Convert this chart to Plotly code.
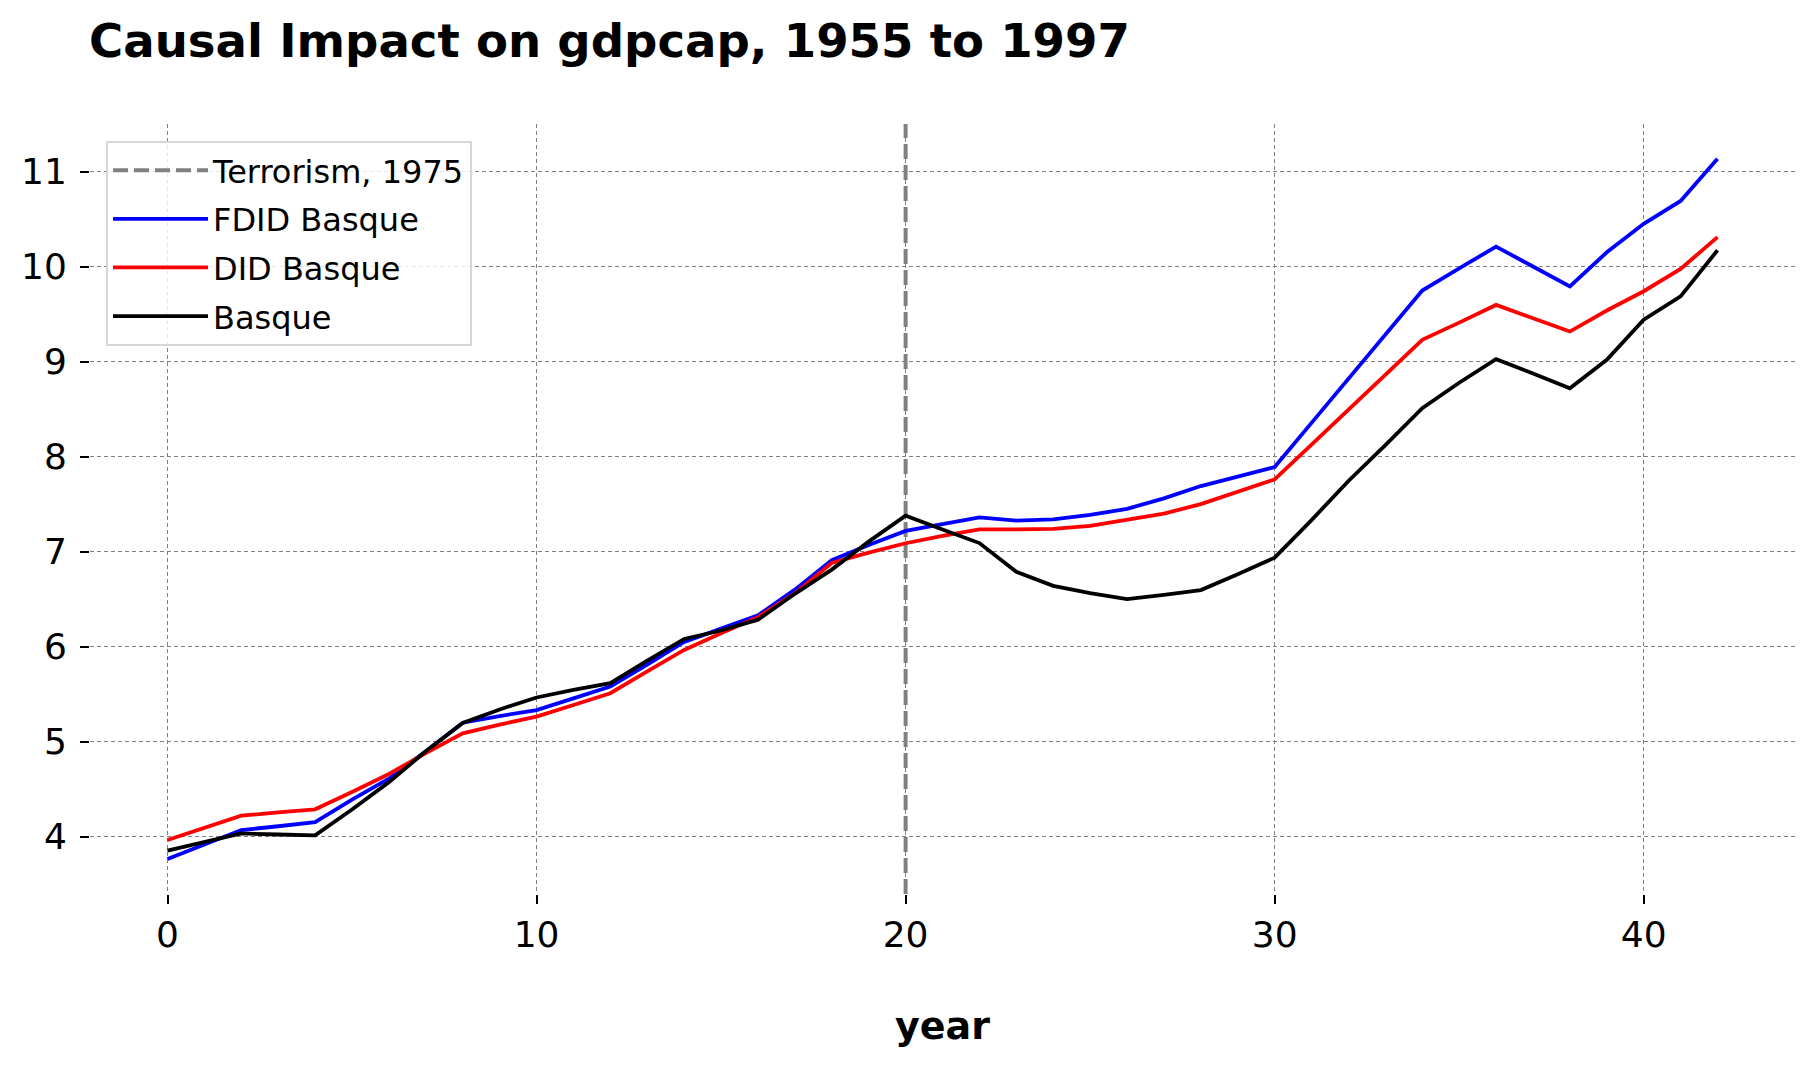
import plotly.graph_objects as go

years = list(range(43))

basque = [3.853, 3.946, 4.034, 4.023, 4.014, 4.286, 4.574, 4.899, 5.197, 5.339,
          5.465, 5.546, 5.615, 5.852, 6.081, 6.170, 6.284, 6.556, 6.811, 7.105,
          7.378, 7.233, 7.090, 6.787, 6.640, 6.563, 6.501, 6.545, 6.595, 6.761,
          6.937, 7.332, 7.743, 8.121, 8.510, 8.777, 9.025, 8.874, 8.719, 9.018,
          9.440, 9.686, 10.171]

fdid = [3.765, 3.917, 4.070, 4.110, 4.154, 4.390, 4.610, 4.900, 5.200, 5.270,
        5.333, 5.456, 5.580, 5.810, 6.050, 6.190, 6.330, 6.600, 6.910, 7.070,
        7.218, 7.290, 7.360, 7.326, 7.340, 7.386, 7.450, 7.560, 7.690, 7.790,
        7.890, 8.355, 8.820, 9.285, 9.747, 9.980, 10.210, 10.000, 9.790, 10.150,
        10.450, 10.690, 11.133]

did = [3.965, 4.093, 4.221, 4.255, 4.288, 4.470, 4.660, 4.880, 5.088, 5.180,
       5.263, 5.386, 5.510, 5.740, 5.965, 6.140, 6.310, 6.560, 6.880, 6.990,
       7.088, 7.165, 7.235, 7.235, 7.240, 7.270, 7.330, 7.400, 7.500, 7.630,
       7.760, 8.127, 8.490, 8.860, 9.228, 9.410, 9.596, 9.456, 9.316, 9.537,
       9.740, 9.975, 10.310]

treat_year = 20
x_ticks = [0, 10, 20, 30, 40]
y_ticks = [4, 5, 6, 7, 8, 9, 10, 11]

FONT = "DejaVu Sans"
W, H = 1814, 1065

fig = go.Figure()

fig.add_shape(type="line", x0=treat_year, x1=treat_year, xref="x",
              y0=0, y1=1, yref="paper", layer="between",
              line=dict(color="#808080", width=4, dash="15px,6px"),
              showlegend=True, name="Terrorism, 1975",
              legendgroup="g0", legendrank=1)

fig.add_trace(go.Scatter(x=years, y=fdid, mode="lines", name="FDID Basque",
                         line=dict(color="#0000ff", width=3.8),
                         legendgroup="g1", legendrank=2))
fig.add_trace(go.Scatter(x=years, y=did, mode="lines", name="DID Basque",
                         line=dict(color="#ff0000", width=3.8),
                         legendgroup="g2", legendrank=3))
fig.add_trace(go.Scatter(x=years, y=basque, mode="lines", name="Basque",
                         line=dict(color="#000000", width=3.8),
                         legendgroup="g3", legendrank=4))

fig.update_layout(
    width=W, height=H,
    margin=dict(l=82, r=27, t=116, b=179),
    plot_bgcolor="white", paper_bgcolor="white",
    font=dict(family=FONT, color="black"),
    title=dict(text="Causal Impact on gdpcap, 1955 to 1997",
               font=dict(family=FONT, size=46.6, weight="bold", color="black"),
               xref="container", x=81 / W, xanchor="left",
               yref="container", y=1 - 33 / H, yanchor="middle"),
    showlegend=True,
    legend=dict(x=0.0094, y=0.978, xanchor="left", yanchor="top",
                bgcolor="rgba(255,255,255,0.8)", bordercolor="#d6d6d6",
                borderwidth=2, font=dict(family=FONT, size=32),
                traceorder="grouped", tracegroupgap=4, itemwidth=95),
)

fig.update_xaxes(range=[-2.1, 44.1], tickvals=x_ticks,
                 showline=False, zeroline=False,
                 showgrid=True, gridcolor="#808080", gridwidth=1, griddash="4px,3px",
                 ticks="outside", ticklen=9, tickwidth=1.5, tickcolor="black",
                 tickfont=dict(family=FONT, size=36),
                 title=dict(text="year", standoff=58,
                            font=dict(family=FONT, size=38, weight="bold")))
fig.update_yaxes(range=[3.397, 11.5], tickvals=y_ticks,
                 showline=False, zeroline=False,
                 showgrid=True, gridcolor="#808080", gridwidth=1, griddash="4px,3px",
                 ticks="outside", ticklen=9, tickwidth=1.5, tickcolor="black",
                 ticklabelstandoff=6,
                 tickfont=dict(family=FONT, size=36))

fig.write_html("out.html")
